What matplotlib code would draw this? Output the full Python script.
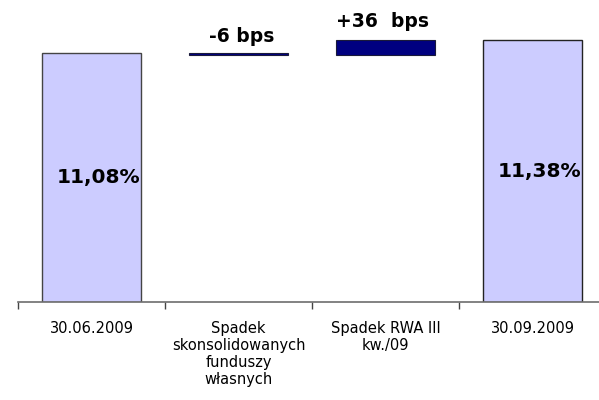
import matplotlib
matplotlib.use("Agg")
import matplotlib.pyplot as plt

# Data (capital ratio walk, in %)
categories = ["30.06.2009", "Spadek\nskonsolidowanych\nfunduszy\nwłasnych",
              "Spadek RWA III\nkw./09", "30.09.2009"]
start_value = 11.08
deltas_bps = [-6, 36]
end_value = 11.38
delta_labels = ["-6 bps", "+36  bps"]
axis_min = 5.0

plt.rcParams['font.family'] = ['DejaVu Sans']

fig = plt.figure(figsize=(5.99, 4.0), dpi=100)
ax = fig.add_axes([18 / 599, 0.245, 588 / 599, 0.755])

width = 0.667
light = '#ccccff'
navy = '#000080'

# totals
ax.bar(0, start_value - axis_min, bottom=axis_min, width=width,
       color=light, edgecolor='#444444', linewidth=1)
ax.bar(3, end_value - axis_min, bottom=axis_min, width=width,
       color=light, edgecolor='#222222', linewidth=1)

# floating deltas
level = start_value
offsets = [(2, 5), (-2, 7)]
for i, d in enumerate(deltas_bps):
    change = d / 100
    low = min(level, level + change)
    ax.bar(i + 1, abs(change), bottom=low, width=width,
           color=navy, edgecolor='#1a1a3a', linewidth=0.8)
    ax.annotate(delta_labels[i], (i + 1, low + abs(change)),
                xytext=offsets[i], textcoords='offset points',
                ha='center', va='bottom', fontsize=13.5, fontweight='bold')
    level += change

# value labels inside total bars
for x, v in [(0, start_value), (3, end_value)]:
    ax.text(x + 0.05, (axis_min + v) / 2, f"{v:.2f}%".replace('.', ','),
            ha='center', va='center', fontsize=14.5, fontweight='bold')

ax.set_xlim(-0.5, 3.5)
ax.set_ylim(axis_min, axis_min + 302 / 41)

for s in ['left', 'right', 'top']:
    ax.spines[s].set_visible(False)
ax.spines['bottom'].set_color('#6d6d6d')
ax.spines['bottom'].set_linewidth(1.2)
ax.set_yticks([])

ax.set_xticks(range(len(categories)))
ax.set_xticklabels(categories, fontsize=10.5, linespacing=1.15)
ax.tick_params(axis='x', which='major', length=0, pad=14)
ax.set_xticks([-0.5, 0.5, 1.5, 2.5, 3.5], minor=True)
ax.tick_params(axis='x', which='minor', length=5, width=1, color='#444444')

fig.savefig("out.png", dpi=100)
